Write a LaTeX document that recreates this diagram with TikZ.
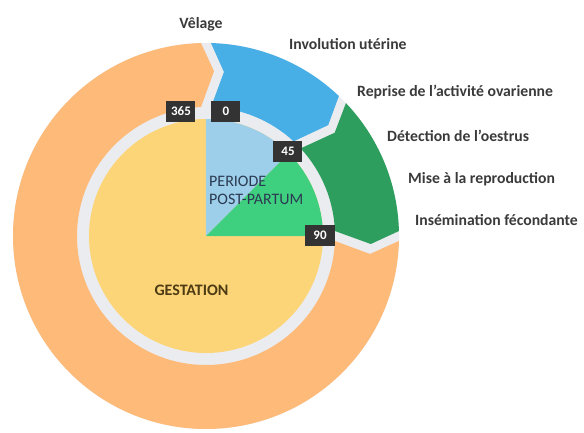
\documentclass[tikz,border=0pt]{standalone}
\usepackage{fontspec}
\usepackage{xcolor}
\setmainfont{Carlito}
\definecolor{ringgrey}{HTML}{EBECEF}
\definecolor{gestyellow}{HTML}{FDD579}
\definecolor{ppblue}{HTML}{9DCFEA}
\definecolor{ppgreen}{HTML}{3FD07F}
\definecolor{outblue}{HTML}{47AEE6}
\definecolor{outgreen}{HTML}{2E9E5E}
\definecolor{outorange}{HTML}{FDBA78}
\definecolor{boxgrey}{HTML}{333333}
\definecolor{labelgrey}{HTML}{3A3A3A}
\definecolor{pptext}{HTML}{2B3A52}
\definecolor{gesttext}{HTML}{4D3B14}

\begin{document}
\begin{tikzpicture}[x=1pt,y=1pt,
  daybox/.style={fill=boxgrey,text=white,font=\fontsize{13}{13}\selectfont\bfseries,minimum width=29pt,minimum height=21pt,inner sep=0pt},
  steplabel/.style={text=labelgrey,font=\fontsize{15.7}{15.7}\selectfont\bfseries,inner sep=0pt,anchor=west}]

\useasboundingbox (-206,-196) rectangle (378,236);

\fill[ringgrey] (0,0) circle (193);
\foreach \a/\b/\c in {90/45/outblue, 45/0/outgreen, 0/-270/outorange}
  \fill[\c] ({\a-1.48}:193) -- ({\a-6.25}:165) -- ({\a-2.22}:129)
    arc[start angle=\a-2.22, end angle=\b+2.22, radius=129]
    -- ({\b-2.78}:165) -- ({\b+1.48}:193)
    arc[start angle=\b+1.48, end angle=\a-1.48, radius=193] -- cycle;

\fill[gestyellow] (0,0) circle (117);
\fill[ppblue] (0,0) -- (90:117) arc[start angle=90, end angle=45, radius=117] -- cycle;
\fill[ppgreen] (0,0) -- (45:117) arc[start angle=45, end angle=0, radius=117] -- cycle;

\node[daybox] (d365) at (-25,125) {365};
\node[daybox] (d0) at (20,125) {0};
\node[daybox] (d45) at (82,85) {45};
\node[daybox] (d90) at (114,1) {90};

\node[text=pptext,font=\fontsize{16}{18}\selectfont,align=left,anchor=west,inner sep=0pt] (pp) at (3,45.5) {PERIODE\\POST-PARTUM};
\node[text=gesttext,font=\fontsize{16}{16}\selectfont\bfseries,inner sep=0pt] (gest) at (-14.5,-54) {GESTATION};

\node[steplabel,anchor=center] (velage) at (-5,212) {Vêlage};
\node[steplabel] (involution) at (83,192) {Involution utérine};
\node[steplabel] (reprise) at (151,144) {Reprise de l’activité ovarienne};
\node[steplabel] (detection) at (181,100) {Détection de l’oestrus};
\node[steplabel] (mise) at (202,57) {Mise à la reproduction};
\node[steplabel] (insemination) at (209,16) {Insémination fécondante};

\end{tikzpicture}
\end{document}
